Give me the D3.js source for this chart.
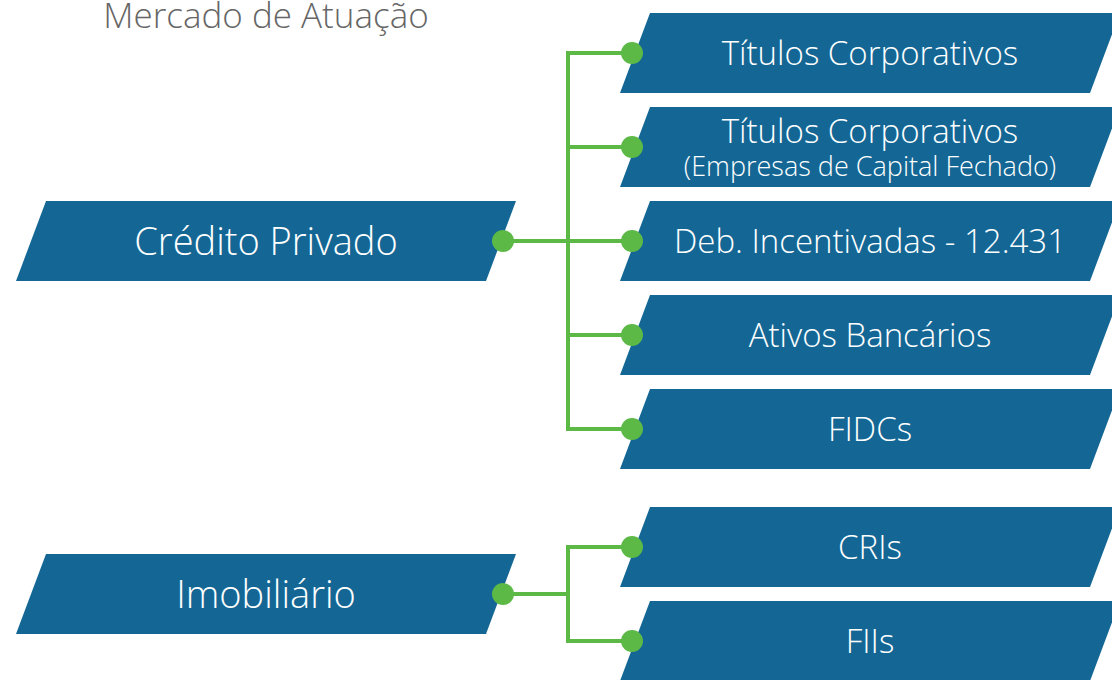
<!DOCTYPE html>
<html>
<head>
<meta charset="utf-8">
<script src="https://cdn.jsdelivr.net/npm/d3@7"></script>
<style>
  body { margin: 0; background: #fff; }
  svg { display: block; font-family: "Open Sans", "Noto Sans", sans-serif; }
</style>
</head>
<body>
<div id="chart"></div>
<script>
// Title
const title = "Mercado de Atuação";

// Groups (left boxes) and their children (right boxes)
const groups = ["Crédito Privado", "Imobiliário"];
const creditChildren = [
    ["Títulos Corporativos"],
    ["Títulos Corporativos", "(Empresas de Capital Fechado)"],
    ["Deb. Incentivadas - 12.431"],
    ["Ativos Bancários"],
    ["FIDCs"]
];
const realEstateChildren = [["CRIs"], ["FIIs"]];
const childrenByGroup = [creditChildren, realEstateChildren];

const width = 1112;
const height = 680;
const boxH = 80;
const rowStep = 94;
const groupGap = 24;
const skew = 30;
const boxW = 470;
const leftX = 16;     // bottom-left of group boxes
const rightX = 620;   // bottom-left of child boxes
const topY = 13;
const trunkX = 568;
const dotR = 11;

const blue = "#146795";
const green = "#5cb946";

const svg = d3.select("#chart")
    .append("svg")
    .attr("width", width)
    .attr("height", height);

// Work out the row tops for every child box
let rows = [];
let y = topY;
childrenByGroup.forEach((kids, gi) => {
    kids.forEach((lines, ci) => {
        rows.push({ group: gi, lines: lines, top: y });
        y += rowStep;
    });
    y += groupGap;
});

const groupData = groups.map((name, gi) => {
    const mine = rows.filter(r => r.group === gi);
    const first = mine[0].top + boxH / 2;
    const last = mine[mine.length - 1].top + boxH / 2;
    return { name: name, center: (first + last) / 2, first: first, last: last, kids: mine };
});

function para(x0, top) {
    // parallelogram slanting right: bottom-left at x0
    return `M${x0},${top + boxH} L${x0 + skew},${top} L${x0 + skew + boxW},${top} L${x0 + boxW},${top + boxH} Z`;
}

// Title
svg.append("text")
    .attr("x", leftX + (boxW + skew) / 2)
    .attr("y", 28)
    .attr("text-anchor", "middle")
    .style("fill", "#666")
    .style("font-size", "35px")
    .style("font-weight", 300)
    .text(title);

// Connector lines
const lineG = svg.append("g")
    .attr("stroke", green)
    .attr("stroke-width", 4)
    .attr("fill", "none");

groupData.forEach(g => {
    const dotX = leftX + boxW + 17;
    lineG.append("line")
        .attr("x1", dotX).attr("y1", g.center)
        .attr("x2", trunkX).attr("y2", g.center);
    lineG.append("line")
        .attr("x1", trunkX).attr("y1", g.first - 2)
        .attr("x2", trunkX).attr("y2", g.last + 2);
    g.kids.forEach(k => {
        lineG.append("line")
            .attr("x1", trunkX - 2).attr("y1", k.top + boxH / 2)
            .attr("x2", rightX + 12).attr("y2", k.top + boxH / 2);
    });
});

// Group boxes
const gBox = svg.append("g")
    .selectAll("g")
    .data(groupData)
    .enter()
    .append("g");

gBox.append("path")
    .attr("d", d => para(leftX, d.center - boxH / 2))
    .attr("fill", blue);

gBox.append("text")
    .attr("x", leftX + (boxW + skew) / 2)
    .attr("y", d => d.center)
    .attr("dy", "0.36em")
    .attr("text-anchor", "middle")
    .style("fill", "#fff")
    .style("font-size", "38px")
    .style("font-weight", 300)
    .text(d => d.name);

gBox.append("circle")
    .attr("cx", leftX + boxW + 17)
    .attr("cy", d => d.center)
    .attr("r", dotR)
    .attr("fill", green);

// Child boxes
const cBox = svg.append("g")
    .selectAll("g")
    .data(rows)
    .enter()
    .append("g");

cBox.append("path")
    .attr("d", d => para(rightX, d.top))
    .attr("fill", blue);

cBox.each(function(d) {
    const t = d3.select(this).append("text")
        .attr("text-anchor", "middle")
        .style("fill", "#fff")
        .style("font-weight", 300);
    const cx = rightX + (boxW + skew) / 2;
    if (d.lines.length === 1) {
        t.append("tspan")
            .attr("x", cx)
            .attr("y", d.top + boxH / 2)
            .attr("dy", "0.36em")
            .style("font-size", "33px")
            .text(d.lines[0]);
    } else {
        t.append("tspan")
            .attr("x", cx)
            .attr("y", d.top + 24)
            .attr("dy", "0.36em")
            .style("font-size", "33px")
            .text(d.lines[0]);
        t.append("tspan")
            .attr("x", cx)
            .attr("y", d.top + 59)
            .attr("dy", "0.36em")
            .style("font-size", "27px")
            .text(d.lines[1]);
    }
});

cBox.append("circle")
    .attr("cx", rightX + 12)
    .attr("cy", d => d.top + boxH / 2)
    .attr("r", dotR)
    .attr("fill", green);
</script>
</body>
</html>
